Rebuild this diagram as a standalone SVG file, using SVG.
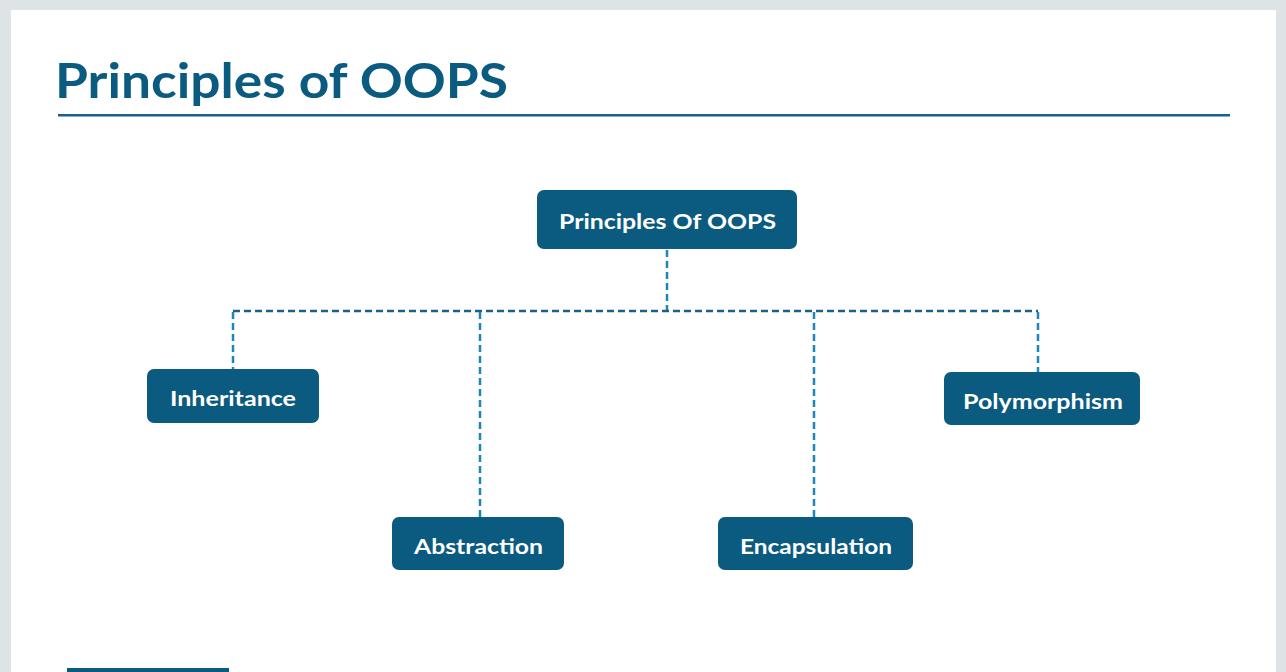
<svg xmlns="http://www.w3.org/2000/svg" width="1286" height="672" viewBox="0 0 1286 672">
<style>
.node rect{fill:#0b5a80;}
.node text{fill:#ffffff;font-family:Lato,"Open Sans",sans-serif;font-weight:bold;font-size:21px;text-anchor:middle;dominant-baseline:central;}
.trunk{stroke:#1b5f8a;stroke-width:2.5;stroke-dasharray:7 4;fill:none;}
.drop{stroke:#1a86bd;stroke-width:2.5;stroke-dasharray:7 4;fill:none;}
</style>
<rect x="0" y="0" width="1286" height="672" fill="#dee3e6"/>
<rect x="11" y="10" width="1265" height="662" fill="#ffffff"/>
<text x="55" y="98" font-family="Lato,'Open Sans',sans-serif" font-weight="bold" font-size="47" fill="#0b5a80" textLength="453" lengthAdjust="spacingAndGlyphs">Principles of OOPS</text>
<rect x="58" y="114" width="1172" height="2.5" fill="#1b5f8a"/>
<rect x="67" y="668" width="162" height="4" fill="#0b5a80"/>
<g id="connectors">
<path class="drop" d="M667 250 V311"/>
<path class="trunk" d="M233 311 H1038"/>
<path class="drop" d="M233 312 V369"/>
<path class="drop" d="M480 312 V517"/>
<path class="drop" d="M814 312 V517"/>
<path class="drop" d="M1038 312 V372"/>
</g>
<g id="root" class="node"><rect x="537" y="190" width="260" height="59" rx="7"/><text x="667.5" y="220" textLength="217" lengthAdjust="spacingAndGlyphs">Principles Of OOPS</text></g>
<g id="inheritance" class="node"><rect x="147" y="369" width="172" height="54" rx="7"/><text x="233" y="397" textLength="126" lengthAdjust="spacingAndGlyphs">Inheritance</text></g>
<g id="abstraction" class="node"><rect x="392" y="517" width="172" height="53" rx="7"/><text x="478.5" y="545" textLength="129" lengthAdjust="spacingAndGlyphs">Abstraction</text></g>
<g id="encapsulation" class="node"><rect x="718" y="517" width="195" height="53" rx="7"/><text x="816" y="545" textLength="152" lengthAdjust="spacingAndGlyphs">Encapsulation</text></g>
<g id="polymorphism" class="node"><rect x="944" y="372" width="196" height="53" rx="7"/><text x="1043" y="400" textLength="160" lengthAdjust="spacingAndGlyphs">Polymorphism</text></g>
</svg>
